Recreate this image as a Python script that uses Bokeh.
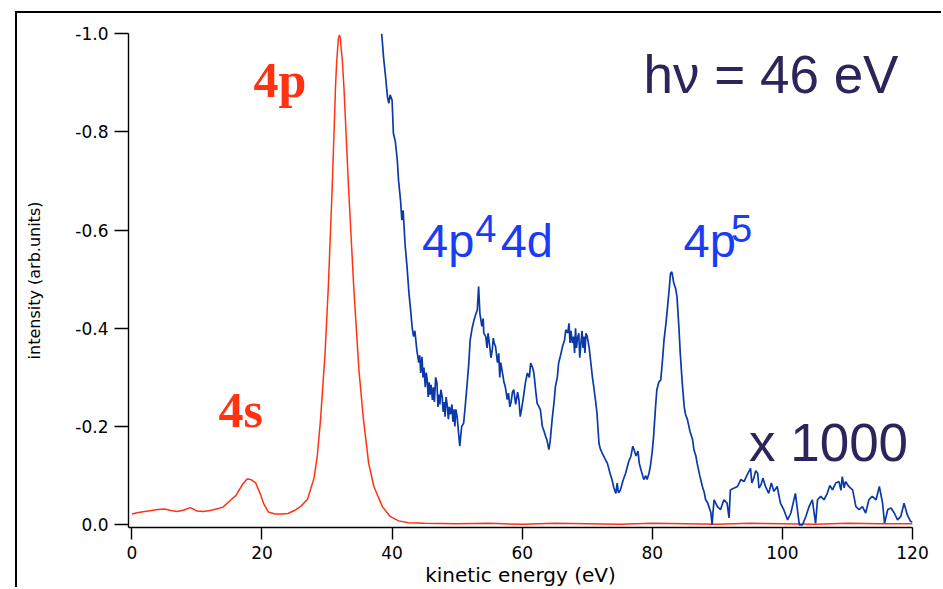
from bokeh.plotting import figure
from bokeh.models import Range1d, FixedTicker, CustomJSTickFormatter
from bokeh.core.properties import value
from bokeh.embed import file_html
from bokeh.resources import INLINE

# ---- data ----
# main line spectrum (red), intensity in arb. units (negative, as recorded)
red_x = [0, 1, 2, 3, 4, 5, 6, 7, 8, 9, 10, 11, 12, 13, 14, 15, 16, 17, 17.7, 18.3,
         19, 19.7, 20.3, 21, 22, 23, 24, 25, 26, 27, 28, 28.5, 29, 29.7, 30.2, 30.8,
         31.3, 31.45, 31.6, 31.75, 31.9, 32.05, 32.2, 32.35, 32.6, 33.3, 34.1, 34.9,
         35.6, 36.4, 37.2, 38.5, 39.7, 41, 42.5, 45, 50, 55, 60, 65, 70, 75, 80, 85,
         90, 95, 100, 105, 110, 115, 120]
red_y = [-0.022, -0.025, -0.027, -0.029, -0.031, -0.032, -0.029, -0.027, -0.030, -0.035,
         -0.028, -0.027, -0.029, -0.032, -0.036, -0.048, -0.060, -0.082, -0.093, -0.092,
         -0.086, -0.064, -0.042, -0.026, -0.022, -0.022, -0.023, -0.029, -0.038, -0.052,
         -0.095, -0.14, -0.214, -0.35, -0.485, -0.688, -0.89, -0.935, -0.965, -0.99,
         -0.997, -0.99, -0.965, -0.945, -0.89, -0.688, -0.485, -0.315, -0.214, -0.125,
         -0.078, -0.037, -0.017, -0.008, -0.004, -0.003, -0.002, -0.003, -0.001, -0.003,
         -0.002, -0.001, -0.003, -0.002, -0.001, -0.003, -0.002, -0.001, -0.003, -0.002,
         -0.002]

# satellite region (blue), magnified x 1000
blue_x = [38.4, 38.7, 39.0, 39.3, 39.5, 39.7, 40.0, 40.2, 40.5, 40.8, 41.0, 41.3, 41.5,
          41.7, 42.0, 42.3, 42.6, 42.8, 43.1, 43.3, 43.5, 43.8, 44.1, 44.25, 44.4, 44.6,
          44.75, 44.9, 45.1, 45.25, 45.4, 45.55, 45.7, 45.85, 46.0, 46.2, 46.35, 46.5,
          46.7, 46.9, 47.05, 47.2, 47.35, 47.5, 47.7, 47.85, 48.0, 48.15, 48.3, 48.5,
          48.65, 48.8, 49.0, 49.2, 49.35, 49.5, 49.65, 49.8, 50.0, 50.2, 50.4, 50.7, 51.0,
          51.3, 51.5, 51.8, 52.0, 52.3, 52.6, 52.9, 53.1, 53.3, 53.5, 53.8, 54.0, 54.1,
          54.4, 54.6, 54.75, 54.9, 55.2, 55.4, 55.55, 55.7, 55.9, 56.2, 56.4, 56.55, 56.7,
          56.9, 57.2, 57.4, 57.7, 57.9, 58.1, 58.3, 58.5, 58.7, 59.0, 59.3, 59.5, 59.7,
          59.9, 60.2, 60.5, 60.8, 61.1, 61.3, 61.6, 61.8, 62.1, 62.3, 62.6, 62.8, 63.1,
          63.3, 63.6, 63.8, 64.1, 64.3, 64.6, 64.9, 65.1, 65.4, 65.6, 65.9, 66.2, 66.5,
          66.7, 67.0, 67.2, 67.35, 67.5, 67.7, 67.9, 68.05, 68.2, 68.35, 68.5, 68.7, 68.85,
          69.0, 69.2, 69.35, 69.5, 69.65, 69.8, 70.0, 70.3, 70.5, 70.8, 71.0, 71.3, 71.5,
          71.8, 72.0, 72.3, 72.7, 73.1, 73.5, 73.8, 74.1, 74.4, 74.6, 74.8, 75.1, 75.5,
          75.9, 76.2, 76.4, 76.7, 77.0, 77.2, 77.5, 77.8, 78.0, 78.3, 78.7, 79.0, 79.2,
          79.5, 79.7, 80.0, 80.2, 80.5, 80.7, 81.0, 81.3, 81.6, 81.8, 82.1, 82.3, 82.6,
          82.8, 83.0, 83.2, 83.3, 83.6, 83.8, 84.1, 84.3, 84.6, 84.9, 85.1, 85.4, 85.8,
          86.2, 86.4, 86.7, 86.9, 87.3, 87.7, 88.0, 88.2, 88.5, 88.7, 89.0, 89.2, 89.3,
          89.5, 90.0, 90.5, 91.0, 91.5, 91.8, 92.0, 92.6, 93.1, 93.6, 94.1, 94.6, 95.1,
          95.3, 95.6, 95.9, 96.2, 96.4, 96.7, 97.0, 97.4, 97.9, 98.3, 98.7, 99.2, 99.7,
          100.2, 100.8, 101.3, 102.0, 102.6, 103.1, 103.6, 104.1, 104.6, 105.1, 105.4,
          105.9, 106.4, 106.9, 107.3, 107.7, 108.2, 108.7, 109.0, 109.2, 109.5, 109.7,
          110.2, 110.8, 111.3, 111.8, 112.3, 112.8, 113.3, 113.8, 114.4, 114.9, 115.4,
          115.7, 116.2, 116.7, 117.2, 117.7, 118.2, 118.7, 119.2, 119.7, 120.0]
blue_y = [-1.0, -0.95, -0.912, -0.87, -0.858, -0.875, -0.864, -0.797, -0.78, -0.742, -0.70,
          -0.66, -0.62, -0.64, -0.57, -0.525, -0.47, -0.444, -0.40, -0.383, -0.395, -0.356,
          -0.33, -0.345, -0.309, -0.342, -0.30, -0.32, -0.28, -0.31, -0.295, -0.26, -0.29,
          -0.265, -0.285, -0.254, -0.28, -0.25, -0.30, -0.288, -0.24, -0.265, -0.245,
          -0.275, -0.261, -0.23, -0.25, -0.22, -0.26, -0.241, -0.215, -0.24, -0.225,
          -0.245, -0.21, -0.235, -0.20, -0.235, -0.22, -0.19, -0.16, -0.20, -0.207, -0.25,
          -0.281, -0.33, -0.376, -0.40, -0.417, -0.43, -0.437, -0.485, -0.43, -0.404,
          -0.42, -0.39, -0.383, -0.36, -0.39, -0.376, -0.34, -0.356, -0.38, -0.37, -0.363,
          -0.33, -0.349, -0.30, -0.33, -0.315, -0.29, -0.281, -0.255, -0.268, -0.24,
          -0.25, -0.27, -0.275, -0.245, -0.27, -0.254, -0.22, -0.235, -0.261, -0.29,
          -0.309, -0.30, -0.329, -0.32, -0.309, -0.27, -0.247, -0.24, -0.234, -0.20,
          -0.193, -0.18, -0.173, -0.153, -0.17, -0.214, -0.25, -0.281, -0.30, -0.329,
          -0.345, -0.363, -0.375, -0.397, -0.39, -0.41, -0.37, -0.395, -0.37, -0.383,
          -0.35, -0.40, -0.36, -0.38, -0.39, -0.34, -0.365, -0.395, -0.36, -0.383, -0.35,
          -0.39, -0.383, -0.36, -0.336, -0.30, -0.281, -0.25, -0.227, -0.166, -0.155,
          -0.146, -0.135, -0.125, -0.105, -0.092, -0.075, -0.064, -0.085, -0.065, -0.071,
          -0.09, -0.105, -0.12, -0.13, -0.139, -0.16, -0.153, -0.14, -0.15, -0.125, -0.11,
          -0.092, -0.10, -0.092, -0.105, -0.119, -0.15, -0.18, -0.24, -0.275, -0.29,
          -0.295, -0.34, -0.376, -0.41, -0.437, -0.48, -0.512, -0.515, -0.50, -0.492,
          -0.48, -0.464, -0.40, -0.349, -0.29, -0.241, -0.225, -0.214, -0.19, -0.173,
          -0.153, -0.14, -0.125, -0.10, -0.078, -0.065, -0.051, -0.045, -0.037, -0.025,
          -0.0, -0.020, -0.051, -0.037, -0.031, -0.051, -0.044, -0.014, -0.071, -0.075,
          -0.078, -0.092, -0.088, -0.102, -0.115, -0.085, -0.095, -0.11, -0.105, -0.075,
          -0.081, -0.095, -0.078, -0.064, -0.085, -0.068, -0.078, -0.044, -0.031, -0.010,
          -0.024, -0.064, -0.0, -0.0, -0.017, -0.037, -0.051, -0.003, -0.051, -0.058,
          -0.051, -0.064, -0.08, -0.071, -0.085, -0.088, -0.07, -0.098, -0.075, -0.088,
          -0.078, -0.071, -0.037, -0.031, -0.037, -0.024, -0.051, -0.058, -0.051, -0.078,
          -0.044, -0.003, -0.031, -0.034, -0.024, -0.010, -0.017, -0.044, -0.020, -0.007,
          -0.005]

x_ticks = [0, 20, 40, 60, 80, 100, 120]
y_ticks = [0.0, -0.2, -0.4, -0.6, -0.8, -1.0]

RED = "#ff3212"
BLUE = "#0b3aa8"
LABEL_BLUE = "#1b3cf6"
NAVY = "#2e2459"

p = figure(width=926, height=576, output_backend="svg", toolbar_location=None,
           x_range=Range1d(-0.52, 120), y_range=Range1d(0.0055, -1.0),
           min_border_left=111, min_border_right=31, min_border_top=20,
           min_border_bottom=61)
# outer frame of the original graph window (only its left and top edges show)
p.margin = (11, 0, 0, 15)
p.styles = {"border-left": "2px solid black", "border-top": "2px solid black"}
p.background_fill_color = "white"
p.border_fill_color = "white"
p.outline_line_color = None
p.xgrid.visible = False
p.ygrid.visible = False

p.line(red_x, red_y, line_color=RED, line_width=1.5)
p.line(blue_x, blue_y, line_color=BLUE, line_width=1.7)

# axes
for ax in (p.xaxis[0], p.yaxis[0]):
    ax.axis_line_color = "black"
    ax.axis_line_width = 1.4
    ax.major_tick_line_color = "black"
    ax.major_tick_line_width = 1.4
    ax.major_tick_in = 0
    ax.minor_tick_line_color = None
    ax.major_label_text_font = "DejaVu Sans"
    ax.major_label_text_font_size = "17px"
    ax.major_label_text_color = "black"
    ax.axis_label_text_font = "DejaVu Sans"
    ax.axis_label_text_font_style = "normal"
    ax.axis_label_text_color = "black"

p.xaxis.ticker = FixedTicker(ticks=x_ticks)
p.yaxis.ticker = FixedTicker(ticks=y_ticks)
p.yaxis.formatter = CustomJSTickFormatter(code="return tick.toFixed(1);")
p.xaxis.major_tick_out = 12
p.yaxis.major_tick_out = 14
p.xaxis.major_label_standoff = 6
p.yaxis.major_label_standoff = 6
p.xaxis.axis_label = "kinetic energy (eV)"
p.yaxis.axis_label = "intensity (arb.units)"
p.xaxis.axis_label_text_font_size = "20px"
p.yaxis.axis_label_text_font_size = "16px"
p.xaxis.axis_label_standoff = 1
p.yaxis.axis_label_standoff = 28

# annotations
p.text(x=[18.7, 13.3], y=[-0.9046, -0.2336], text=["4p", "4s"],
       text_font=value("Liberation Serif"), text_font_style="bold",
       text_font_size="50px", text_color=RED, text_baseline="alphabetic")
p.text(x=[44.6, 56.7, 84.8], y=[-0.578, -0.578, -0.578], text=["4p", "4d", "4p"],
       text_font=value("Liberation Sans"), text_font_size="47px",
       text_color=LABEL_BLUE, text_baseline="alphabetic")
p.text(x=[52.8, 92.1], y=[-0.604, -0.604], text=["4", "5"],
       text_font=value("Liberation Sans"), text_font_size="38px",
       text_color=LABEL_BLUE, text_baseline="alphabetic")
p.text(x=[78.66], y=[-0.917], text=["h\u03bd = 46 eV"],
       text_font=value("Liberation Sans"), text_font_size="53px",
       text_color=NAVY, text_baseline="alphabetic")
p.text(x=[94.86], y=[-0.168], text=["x 1000"],
       text_font=value("Liberation Sans"), text_font_size="53px",
       text_color=NAVY, text_baseline="alphabetic")

open("out.html", "w").write(file_html(p, INLINE))
